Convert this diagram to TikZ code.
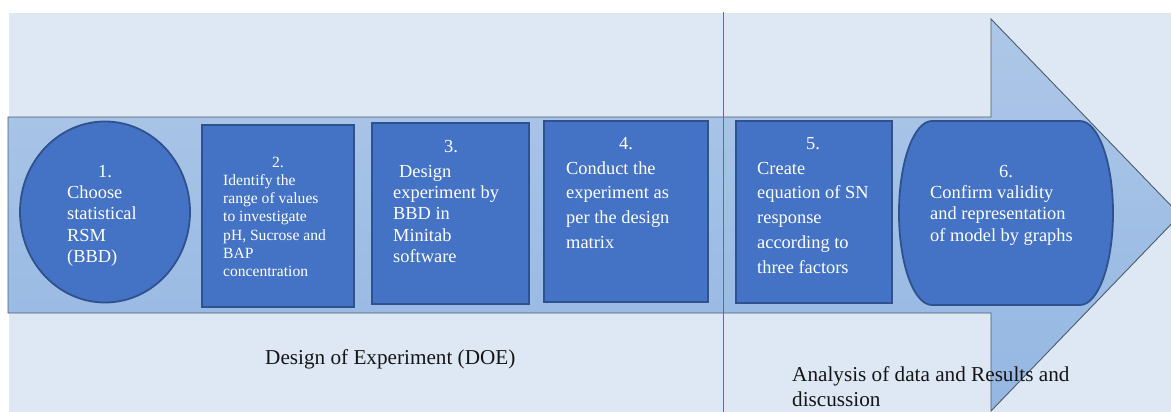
\documentclass[tikz,border=0pt]{standalone}
\usepackage{fontspec}
\setmainfont{Liberation Serif}
\usetikzlibrary{shapes.geometric}
\definecolor{pagebg}{HTML}{DEE8F4}
\definecolor{arrowtop}{HTML}{AEC7E8}
\definecolor{arrowbot}{HTML}{94B7E2}
\definecolor{arrowedge}{HTML}{4D5B6C}
\definecolor{boxfill}{HTML}{4472C4}
\definecolor{boxedge}{HTML}{2F528F}
\definecolor{divider}{HTML}{4472C4}
\definecolor{labelink}{HTML}{151515}
\begin{document}
\begin{tikzpicture}[x=1pt,y=-1pt,
  stepbox/.style={draw=boxedge, line width=1.8pt, fill=boxfill, inner sep=0pt, outer sep=0pt},
  numtxt/.style={text=white, inner sep=0pt, anchor=base, font=\fontsize{18.4}{21.5}\selectfont},
  bodytxt/.style={text=white, inner sep=0pt, anchor=base west, font=\fontsize{18.4}{21.5}\selectfont},
  smalltxt/.style={text=white, inner sep=0pt, anchor=base west, font=\fontsize{15.6}{18.3}\selectfont},
  smallnum/.style={text=white, inner sep=0pt, anchor=base, font=\fontsize{15.6}{18.3}\selectfont},
  phasetxt/.style={text=labelink, inner sep=0pt, anchor=base west, font=\fontsize{21.2}{28}\selectfont}]
\useasboundingbox (0,0) rectangle (1171,412);
\clip (0,0) rectangle (1171,412);
% page background
\fill[pagebg] (9,13) rectangle (1171,412);
% large process arrow
\path[draw=arrowedge, line width=0.9pt, top color=arrowtop, bottom color=arrowbot]
  (8,117) -- (991,117) -- (991,19) -- (1180,215) -- (991,411) -- (991,313) -- (8,313) -- cycle;
% divider between the two phases
\draw[divider, line width=0.9pt] (723,12) -- (723,412);

% step 1
\node[stepbox, ellipse, minimum width=170, minimum height=181] (s1) at (105,212) {};
\node[numtxt] (s1n) at (105,177) {1.};
\foreach \t [count=\i] in {Choose, statistical, RSM, (BBD)}
  \node[bodytxt] (s1l\i) at (67,{198+21.5*(\i-1)}) {\t};

% step 2
\node[stepbox, rectangle, minimum width=152, minimum height=182] (s2) at (278,216) {};
\node[smallnum] (s2n) at (278,167) {2.};
\foreach \t [count=\i] in {Identify the, range of values, to investigate, {pH, Sucrose and}, BAP, concentration}
  \node[smalltxt] (s2l\i) at (223,{185+18.35*(\i-1)}) {\t};

% step 3
\node[stepbox, rectangle, minimum width=157, minimum height=181] (s3) at (450.5,213.5) {};
\node[numtxt] (s3n) at (451,152) {3.};
\node[bodytxt] (s3l1) at (399,177) {Design};
\foreach \t [count=\i] in {experiment by, BBD in, Minitab, software}
  \node[bodytxt] (s3l\i x) at (393,{198.5+21.4*(\i-1)}) {\t};

% step 4
\node[stepbox, rectangle, minimum width=164, minimum height=181] (s4) at (626,211.5) {};
\node[numtxt] (s4n) at (626,149) {4.};
\foreach \t [count=\i] in {Conduct the, experiment as, per the design, matrix}
  \node[bodytxt] (s4l\i) at (566,{174+24.8*(\i-1)}) {\t};

% step 5
\node[stepbox, rectangle, minimum width=156, minimum height=182] (s5) at (814,212) {};
\node[numtxt] (s5n) at (813,149) {5.};
\foreach \t [count=\i] in {Create, equation of SN, response, according to, three factors}
  \node[bodytxt] (s5l\i) at (757,{174+24.8*(\i-1)}) {\t};

% step 6: box with bulging ends
\draw[draw=boxedge, line width=1.8pt, fill=boxfill]
  (932,121) -- (1080,121) arc[start angle=-90, end angle=90, x radius=33, y radius=92]
  -- (932,305) arc[start angle=90, end angle=270, x radius=33, y radius=92] -- cycle;
\node[numtxt] (s6n) at (1006,177) {6.};
\foreach \t [count=\i] in {Confirm validity, and representation, of model by graphs}
  \node[bodytxt] (s6l\i) at (930,{198+21.5*(\i-1)}) {\t};

% phase labels
\node[phasetxt] (doe) at (265,364) {Design of Experiment (DOE)};
\node[phasetxt] (ana1) at (792,381) {Analysis of data and Results and};
\node[phasetxt] (ana2) at (792,406.5) {discussion};
\end{tikzpicture}
\end{document}
